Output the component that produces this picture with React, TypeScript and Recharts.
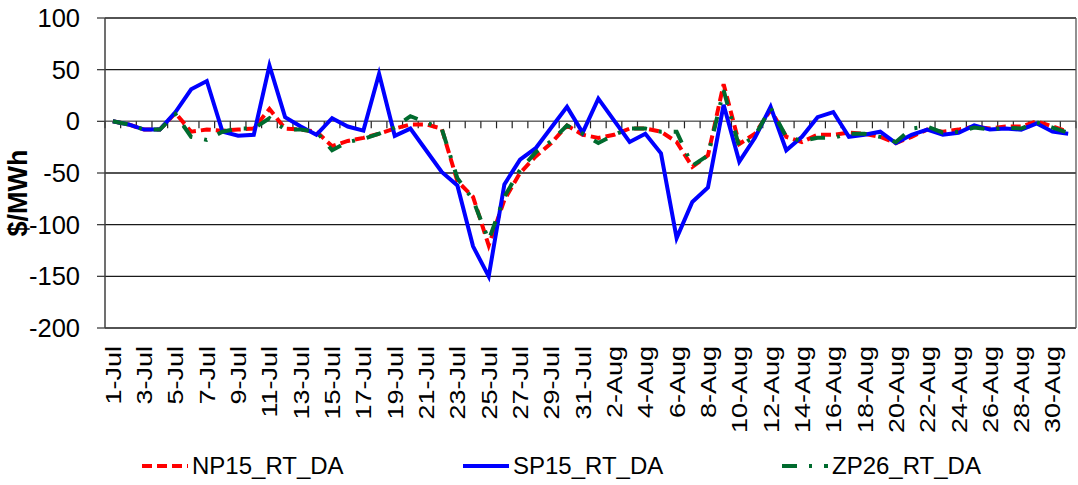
import React from 'react';
import { LineChart, Line, XAxis, YAxis, CartesianGrid, ReferenceLine, Legend } from 'recharts';

const dates = [
  '1-Jul', '2-Jul', '3-Jul', '4-Jul', '5-Jul', '6-Jul', '7-Jul', '8-Jul', '9-Jul', '10-Jul',
  '11-Jul', '12-Jul', '13-Jul', '14-Jul', '15-Jul', '16-Jul', '17-Jul', '18-Jul', '19-Jul', '20-Jul',
  '21-Jul', '22-Jul', '23-Jul', '24-Jul', '25-Jul', '26-Jul', '27-Jul', '28-Jul', '29-Jul', '30-Jul',
  '31-Jul',
  '1-Aug', '2-Aug', '3-Aug', '4-Aug', '5-Aug', '6-Aug', '7-Aug', '8-Aug', '9-Aug', '10-Aug',
  '11-Aug', '12-Aug', '13-Aug', '14-Aug', '15-Aug', '16-Aug', '17-Aug', '18-Aug', '19-Aug', '20-Aug',
  '21-Aug', '22-Aug', '23-Aug', '24-Aug', '25-Aug', '26-Aug', '27-Aug', '28-Aug', '29-Aug', '30-Aug',
  '31-Aug',
];

const np15 = [
  0, -3, -8, -8, 8, -10, -8, -9, -8, -7,
  12, -7, -8, -10, -24, -19, -16, -12, -7, -3,
  -3, -7, -58, -73, -120, -76, -50, -34, -21, -4,
  -13,
  -16, -13, -7, -7, -10, -20, -44, -33, 36, -22,
  -12, 11, -15, -20, -13, -13, -11, -12, -15, -21,
  -15, -8, -10, -8, -5, -7, -5, -5, 0, -5,
  -10,
];

const sp15 = [
  0, -3, -8, -8, 9, 31, 39, -10, -14, -13,
  54, 4, -5, -13, 3, -5, -9, 46, -14, -7,
  -28, -49, -62, -121, -150, -61, -37, -26, -6, 14,
  -11,
  22, 1, -20, -12, -31, -113, -78, -64, 16, -39,
  -16, 14, -28, -15, 4, 9, -15, -13, -10, -21,
  -13, -8, -13, -11, -4, -8, -7, -8, -2, -10,
  -12,
];

const zp26 = [
  0, -3, -8, -8, 7, -15, -18, -10, -7, -7,
  3, -8, -8, -10, -28, -20, -17, -12, -6, 5,
  -1, -7, -55, -76, -115, -73, -47, -30, -19, -4,
  -12,
  -21, -13, -7, -7, -10, -10, -43, -33, 30, -25,
  -14, 13, -15, -19, -16, -16, -12, -12, -15, -20,
  -7, -5, -11, -10, -6, -8, -6, -7, -1, -6,
  -11,
];

const yTicks = [-200, -150, -100, -50, 0, 50, 100];

const seriesNames = ['NP15_RT_DA', 'SP15_RT_DA', 'ZP26_RT_DA'];
const seriesColors = ['#FF0000', '#0000FF', '#006B2E'];
const seriesDash = ['10 5', undefined, '15 12 3 12'];
const legendLeft = [142, 463, 782];

const data = dates.map((d, i) => ({
  date: d,
  NP15_RT_DA: np15[i],
  SP15_RT_DA: sp15[i],
  ZP26_RT_DA: zp26[i],
}));

const FONT = '"Liberation Sans", Arial, Helvetica, sans-serif';

const XTick = (props: any) => {
  const { x, y, payload } = props;
  return (
    <g transform={`translate(${x},${y})`}>
      <text
        transform="rotate(-90) scale(1,0.82)"
        x={0}
        y={0}
        dy="0.36em"
        textAnchor="end"
        fill="#000"
        fontSize={27}
        fontFamily={FONT}
      >
        {payload.value}
      </text>
    </g>
  );
};

const ZeroAxis = (props: any) => {
  const { x1, y1, x2, y2 } = props;
  const n = dates.length;
  const step = (x2 - x1) / n;
  return (
    <g>
      <line x1={x1} y1={y1} x2={x2} y2={y2} stroke="#6b6b6b" strokeWidth={1.3} />
      {Array.from({ length: n + 1 }, (_, k) => (
        <line
          key={k}
          x1={x1 + k * step}
          x2={x1 + k * step}
          y1={y1}
          y2={y1 + 7}
          stroke="#222"
          strokeWidth={1.2}
        />
      ))}
    </g>
  );
};

const YLabel = (p: any) => {
  const vb = p.viewBox || { x: 0, y: 18, width: 105, height: 310 };
  return (
    <text
      transform={`translate(${vb.x + 18},${vb.y + vb.height / 2 + 20}) rotate(-90)`}
      textAnchor="middle"
      dominantBaseline="central"
      fontWeight="bold"
      fontSize={27}
      fontFamily={FONT}
      fill="#000"
    >
      $/MWh
    </text>
  );
};

const renderLegend = () => (
  <div style={{ position: 'relative', width: 1078, height: 30, fontFamily: FONT, fontSize: 24, color: '#000' }}>
    {seriesNames.map((name, i) => (
      <div
        key={name}
        style={{ position: 'absolute', left: legendLeft[i], top: 0, height: 30, display: 'flex', alignItems: 'center', whiteSpace: 'nowrap' }}
      >
        <svg width={46} height={10} style={{ display: 'block' }}>
          <line x1={0} y1={5} x2={46} y2={5} stroke={seriesColors[i]} strokeWidth={4} strokeDasharray={seriesDash[i]} />
        </svg>
        <span style={{ marginLeft: 4, lineHeight: '30px' }}>{name}</span>
      </div>
    ))}
  </div>
);

export default function App() {
  return (
    <div style={{ position: 'absolute', left: 0, top: 0, width: 1078, height: 485, background: '#fff' }}>
      <LineChart
        width={1078}
        height={485}
        data={data}
        margin={{ top: 18, right: 0, bottom: 4, left: 0 }}
        style={{ fontFamily: FONT }}
      >
        <CartesianGrid vertical={false} stroke="#1a1a1a" strokeWidth={1.3} />
        <XAxis
          dataKey="date"
          scale="band"
          interval={1}
          tick={<XTick />}
          tickLine={false}
          axisLine={false}
          tickSize={0}
          tickMargin={18}
          height={123}
        />
        <YAxis
          domain={[-200, 100]}
          ticks={yTicks}
          type="number"
          width={105}
          tickSize={8}
          tickMargin={17}
          tick={{ fill: '#000', fontSize: 25.5, fontFamily: FONT }}
          axisLine={{ stroke: '#404040', strokeWidth: 1.5 }}
          tickLine={{ stroke: '#404040', strokeWidth: 1.3 }}
          allowDataOverflow
          label={YLabel}
        />
        <YAxis
          yAxisId="r"
          orientation="right"
          domain={[-200, 100]}
          type="number"
          width={2}
          tick={false}
          tickLine={false}
          axisLine={{ stroke: '#555', strokeWidth: 1.3 }}
        />
        <ReferenceLine y={0} shape={ZeroAxis} />
        {seriesNames.map((name, i) => (
          <Line
            key={name}
            dataKey={name}
            name={name}
            stroke={seriesColors[i]}
            strokeWidth={4}
            strokeDasharray={seriesDash[i]}
            dot={false}
            activeDot={false}
            isAnimationActive={false}
            type="linear"
          />
        ))}
        <Legend verticalAlign="bottom" height={30} content={renderLegend} />
      </LineChart>
    </div>
  );
}
